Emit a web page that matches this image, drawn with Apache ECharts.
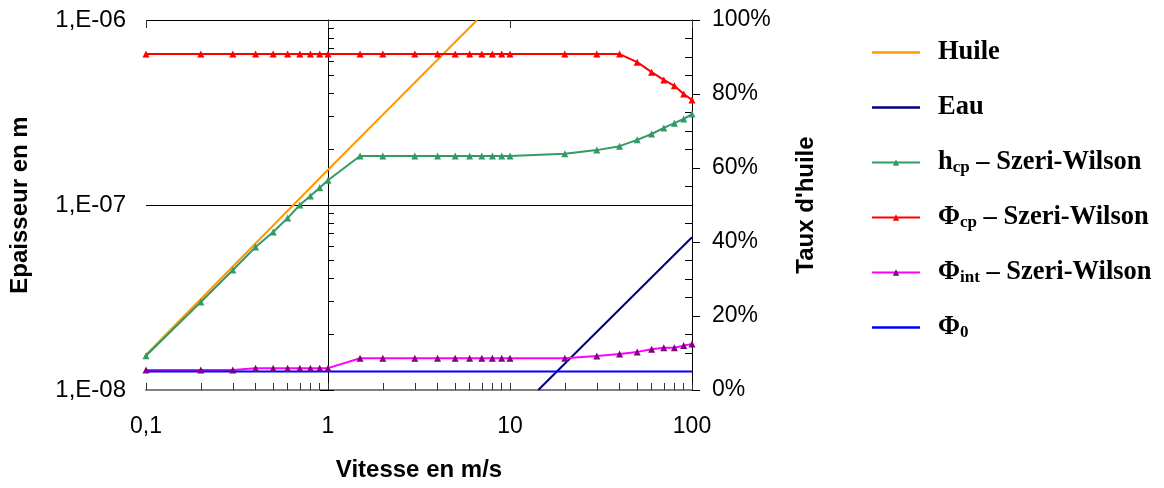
<!DOCTYPE html>
<html><head><meta charset="utf-8">
<script src="https://cdn.jsdelivr.net/npm/echarts@6/dist/echarts.min.js"></script>
<style>html,body{margin:0;padding:0;background:#fff}#c{width:1164px;height:488px}</style>
</head><body><div id="c"></div>
<script>
// ---- data ----
const vitesse = [0.1,0.2,0.3,0.4,0.5,0.6,0.7,0.8,0.9,1,1.5,2,3,4,5,6,7,8,9,10,20,30,40,50,60,70,80,90,100];
const hcpSW = [1.53e-8,2.99e-8,4.45e-8,5.93e-8,7.15e-8,8.5e-8,1.0e-7,1.12e-7,1.24e-7,1.36e-7,
  1.84e-7,1.84e-7,1.84e-7,1.84e-7,1.84e-7,1.84e-7,1.84e-7,1.84e-7,1.84e-7,1.84e-7,
  1.89e-7,1.98e-7,2.08e-7,2.25e-7,2.42e-7,2.61e-7,2.77e-7,2.92e-7,3.10e-7];
const phiCpSW = [0.908,0.908,0.908,0.908,0.908,0.908,0.908,0.908,0.908,0.908,
  0.908,0.908,0.908,0.908,0.908,0.908,0.908,0.908,0.908,0.908,
  0.908,0.908,0.908,0.886,0.859,0.838,0.822,0.800,0.784];
const phiIntSW = [0.054,0.054,0.054,0.059,0.059,0.059,0.059,0.059,0.059,0.059,
  0.086,0.086,0.086,0.086,0.086,0.086,0.086,0.086,0.086,0.086,
  0.086,0.092,0.097,0.103,0.110,0.114,0.114,0.120,0.124];
const huileX = [0.1, 1, 6.6];
const huileY = [1.55e-8, 1.55e-7, 1.0e-6];
const eauX = [14.3, 100];
const eauY = [1.0e-8, 6.7e-8];
const phi0X = [0.1, 100];
const phi0Y = [0.05, 0.05];
const xTickLabels = [0.1, 1, 10, 100];
const yTickLabels = [1e-8, 1e-7, 1e-6];
const seriesNames = ['Huile','Eau','hcp – Szeri-Wilson','Φcp – Szeri-Wilson','Φint – Szeri-Wilson','Φ0'];
const legendRich = {
  'Huile': '{b|Huile}',
  'Eau': '{b|Eau}',
  'hcp – Szeri-Wilson': '{b|h}{s|cp}{b| – Szeri-Wilson}',
  'Φcp – Szeri-Wilson': '{b|Φ}{s|cp}{b| – Szeri-Wilson}',
  'Φint – Szeri-Wilson': '{b|Φ}{s|int}{b| – Szeri-Wilson}',
  'Φ0': '{b|Φ}{s|0}'
};

// tick positions (log minor ticks 2..9 per decade, 5% minor ticks)
function logMinor(lo, hi){ const r=[]; for(let d=lo; d<hi; d++){ for(let k=2;k<=9;k++){ r.push(+(k*Math.pow(10,d)).toPrecision(3)); } } return r; }
const xMinor = logMinor(-1, 2);
const yMinor = logMinor(-8, -6);
const pctMinor = []; for(let i=1;i<20;i++){ if(i%4!==0) pctMinor.push(+(i*0.05).toFixed(2)); }

const zip = (a,b) => a.map((v,i)=>[v,b[i]]);

const SANS = '"Liberation Sans", Arial, sans-serif';
const SERIF = '"Liberation Serif", "Times New Roman", serif';
const LINE_ICON = 'path://M0,0 L48,0 L48,2.5 L0,2.5 Z';

const chart = echarts.init(document.getElementById('c'), null, {renderer:'canvas'});
chart.setOption({
  animation:false,
  backgroundColor:'#fff',
  grid:{left:146, top:20, width:546, height:370, containLabel:false, outerBoundsMode:'none'},
  xAxis:[
    { type:'log', min:0.1, max:100, position:'bottom',
      name:'Vitesse en m/s', nameLocation:'middle', nameGap:68,
      nameTextStyle:{fontFamily:SANS, fontWeight:'bold', fontSize:24, color:'#000'},
      axisLine:{show:false}, axisTick:{show:false}, splitLine:{show:false},
      axisLabel:{customValues:xTickLabels, margin:25, fontFamily:SANS, fontSize:23, color:'#000',
        formatter:v=>String(v).replace('.',',')}
    },
    { type:'log', min:0.1, max:100, position:'top',
      axisLine:{show:true, lineStyle:{color:'#808080', width:2}},
      axisTick:{show:true, inside:false, length:7, customValues:xMinor.concat(xTickLabels), lineStyle:{color:'#333', width:1}},
      axisLabel:{show:false}, splitLine:{show:false}
    },
    { type:'log', min:0.1, max:100, position:'top',
      axisLine:{show:false},
      axisTick:{show:true, inside:true, length:8, customValues:xTickLabels, lineStyle:{color:'#333', width:1}},
      axisLabel:{show:false}, splitLine:{show:false}
    }
  ],
  yAxis:[
    { type:'log', min:1e-8, max:1e-6, position:'left',
      name:'Epaisseur en m', nameLocation:'middle', nameGap:114,
      nameTextStyle:{fontFamily:SANS, fontWeight:'bold', fontSize:24, color:'#000'},
      axisLine:{show:false}, axisTick:{show:false},
      splitLine:{show:true, lineStyle:{color:'#000', width:1}},
      axisLabel:{customValues:yTickLabels, margin:20, fontFamily:SANS, fontSize:24, color:'#000',
        formatter:v=>{ const e=Math.round(Math.log10(v)); return '1,E'+(e<0?'-':'+')+String(Math.abs(e)).padStart(2,'0'); }}
    },
    { type:'value', min:0, max:1, interval:0.2, position:'right',
      name:"Taux d'huile", nameLocation:'middle', nameGap:102,
      nameTextStyle:{fontFamily:SANS, fontWeight:'bold', fontSize:24, color:'#000'},
      axisLine:{show:true, lineStyle:{color:'#000', width:1}},
      axisTick:{show:true, inside:false, length:8, lineStyle:{color:'#000'}},
      splitLine:{show:false},
      axisLabel:{margin:20, fontFamily:SANS, fontSize:23, color:'#000', formatter:v=>Math.round(v*100)+'%'}
    },
    { type:'value', min:0, max:1, interval:0.2, position:'right',
      axisLine:{show:false},
      axisTick:{show:true, inside:true, length:7, customValues:pctMinor, lineStyle:{color:'#000'}},
      splitLine:{show:false}, axisLabel:{show:false}
    },
    { type:'log', min:1e-8, max:1e-6, position:'left', offset:-182,
      axisLine:{show:true, lineStyle:{color:'#000', width:1}},
      axisTick:{show:true, inside:true, length:6, customValues:yMinor.concat(yTickLabels), lineStyle:{color:'#000'}},
      splitLine:{show:false}, axisLabel:{show:false}
    },
    { type:'log', min:1e-8, max:1e-6, position:'left', offset:-182,
      axisLine:{show:false},
      axisTick:{show:true, inside:false, length:8, customValues:yTickLabels, lineStyle:{color:'#000'}},
      splitLine:{show:false}, axisLabel:{show:false}
    }
  ],
  legend:{
    orient:'vertical', left:866, top:34, itemGap:28, itemWidth:48, itemHeight:8,
    data:[
      {name:seriesNames[0], icon:LINE_ICON},
      {name:seriesNames[1], icon:LINE_ICON},
      {name:seriesNames[2]},
      {name:seriesNames[3]},
      {name:seriesNames[4]},
      {name:seriesNames[5], icon:LINE_ICON}
    ],
    formatter:n=>legendRich[n],
    textStyle:{padding:[0,0,0,13], rich:{
      b:{fontFamily:SERIF, fontWeight:'bold', fontSize:26.5, color:'#000'},
      s:{fontFamily:SERIF, fontWeight:'bold', fontSize:17, color:'#000', verticalAlign:'bottom', padding:[10,0,0,0]}
    }}
  },
  series:[
    { name:seriesNames[0], type:'line', xAxisIndex:0, yAxisIndex:0, data:zip(huileX,huileY),
      showSymbol:false, symbol:'none', lineStyle:{color:'#FF9900', width:2}, itemStyle:{color:'#FF9900'} },
    { name:seriesNames[1], type:'line', xAxisIndex:0, yAxisIndex:0, data:zip(eauX,eauY),
      showSymbol:false, symbol:'none', lineStyle:{color:'#000080', width:2}, itemStyle:{color:'#000080'} },
    { name:seriesNames[2], type:'line', xAxisIndex:0, yAxisIndex:0, data:zip(vitesse,hcpSW),
      symbol:'triangle', symbolSize:7, lineStyle:{color:'#339966', width:2}, itemStyle:{color:'#339966'} },
    { name:seriesNames[3], type:'line', xAxisIndex:0, yAxisIndex:1, data:zip(vitesse,phiCpSW),
      symbol:'triangle', symbolSize:7, lineStyle:{color:'#FF0000', width:2}, itemStyle:{color:'#FF0000'} },
    { name:seriesNames[4], type:'line', xAxisIndex:0, yAxisIndex:1, data:zip(vitesse,phiIntSW),
      symbol:'triangle', symbolSize:7, lineStyle:{color:'#FF00FF', width:2}, itemStyle:{color:'#800080'} },
    { name:seriesNames[5], type:'line', xAxisIndex:0, yAxisIndex:1, data:zip(phi0X,phi0Y),
      showSymbol:false, symbol:'none', lineStyle:{color:'#0000FF', width:2}, itemStyle:{color:'#0000FF'} }
  ]
});
</script></body></html>
